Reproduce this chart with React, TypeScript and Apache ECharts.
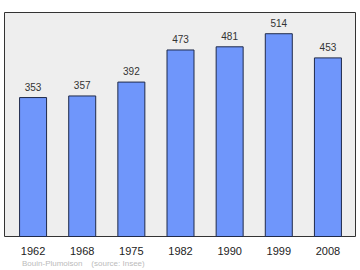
import React, { useEffect, useRef } from "react";
import * as echarts from "echarts";

const categories = ["1962", "1968", "1975", "1982", "1990", "1999", "2008"];
const population = [353, 357, 392, 473, 481, 514, 453];
const footer = "Bouin-Plumoison    (source: Insee)";

export default function App() {
  const ref = useRef<HTMLDivElement>(null);
  useEffect(() => {
    if (!ref.current) return;
    const chart = echarts.init(ref.current, null, { renderer: "svg" });
    chart.setOption({
      animation: false,
      backgroundColor: "#ffffff",
      textStyle: { fontFamily: "Liberation Sans, Arial, sans-serif" },
      graphic: [
        {
          type: "rect",
          z: -10,
          shape: { x: 4.5, y: 12.5, width: 351, height: 224 },
          style: { fill: "#eeeeee", stroke: "#333333", lineWidth: 1 },
        },
        {
          type: "text",
          left: 22,
          top: 259,
          style: {
            text: footer,
            fill: "#bbbbbb",
            font: "8px Liberation Sans, Arial, sans-serif",
          },
        },
      ],
      grid: { left: 8.5, right: 7.5, top: 13, bottom: 33 },
      xAxis: {
        type: "category",
        data: categories,
        axisLine: { show: false },
        axisTick: { show: false },
        axisLabel: { color: "#222222", fontSize: 11, margin: 8 },
      },
      yAxis: {
        type: "value",
        min: 0,
        max: 565,
        show: false,
        splitLine: { show: false },
      },
      series: [
        {
          type: "bar",
          data: population,
          barWidth: 28,
          itemStyle: { color: "#6f96fb", borderColor: "#1f2a4a", borderWidth: 1 },
          label: {
            show: true,
            position: "top",
            distance: 5,
            color: "#333333",
            fontSize: 10,
          },
        },
      ],
    });
    return () => chart.dispose();
  }, []);
  return (
    <div
      ref={ref}
      style={{ position: "absolute", left: 0, top: 0, width: 360, height: 270 }}
    />
  );
}
